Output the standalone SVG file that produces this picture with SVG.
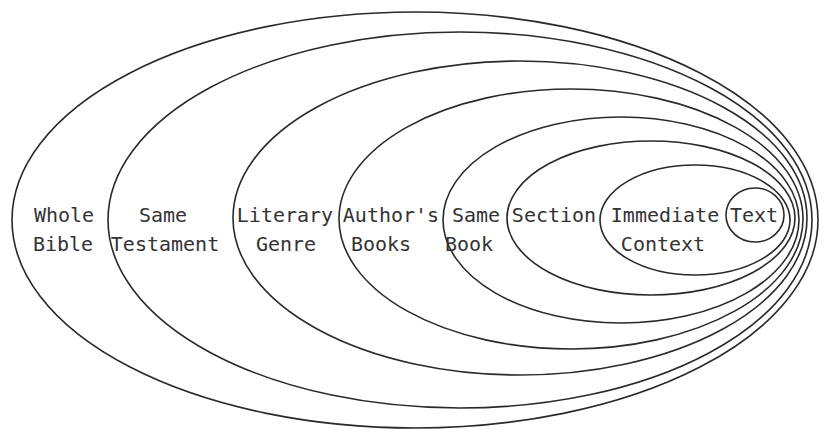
<svg xmlns="http://www.w3.org/2000/svg" width="826" height="430" viewBox="0 0 826 430">
<style>
.e{fill:none;stroke:#2a2a2a;stroke-width:1.6}
.t{font-family:"DejaVu Sans Mono","Liberation Mono",monospace;font-size:20px;fill:#333;text-anchor:middle}
</style>
<rect width="826" height="430" fill="#fff"/>
<g id="whole-bible"><ellipse class="e" cx="415" cy="220" rx="403" ry="208"/><text class="t" x="64" y="222">Whole</text><text class="t" x="63" y="251">Bible</text></g>
<g id="same-testament"><ellipse class="e" cx="460" cy="220" rx="352" ry="188"/><text class="t" x="163" y="222">Same</text><text class="t" x="165" y="251">Testament</text></g>
<g id="literary-genre"><ellipse class="e" cx="520" cy="218" rx="287" ry="157"/><text class="t" x="285" y="222">Literary</text><text class="t" x="286" y="251">Genre</text></g>
<g id="authors-books"><ellipse class="e" cx="571" cy="219" rx="232" ry="130"/><text class="t" x="391" y="222">Author's</text><text class="t" x="381" y="251">Books</text></g>
<g id="same-book"><ellipse class="e" cx="621" cy="220" rx="178" ry="103"/><text class="t" x="476" y="222">Same</text><text class="t" x="469" y="251">Book</text></g>
<g id="section"><ellipse class="e" cx="651" cy="218" rx="144" ry="77"/><text class="t" x="554" y="222">Section</text></g>
<g id="immediate-context"><ellipse class="e" cx="695" cy="220" rx="95" ry="55"/><text class="t" x="665" y="222">Immediate</text><text class="t" x="663" y="251">Context</text></g>
<g id="text"><ellipse class="e" cx="755" cy="215" rx="29" ry="27"/><text class="t" x="754" y="222">Text</text></g>
<g id="connectors"/>
</svg>
